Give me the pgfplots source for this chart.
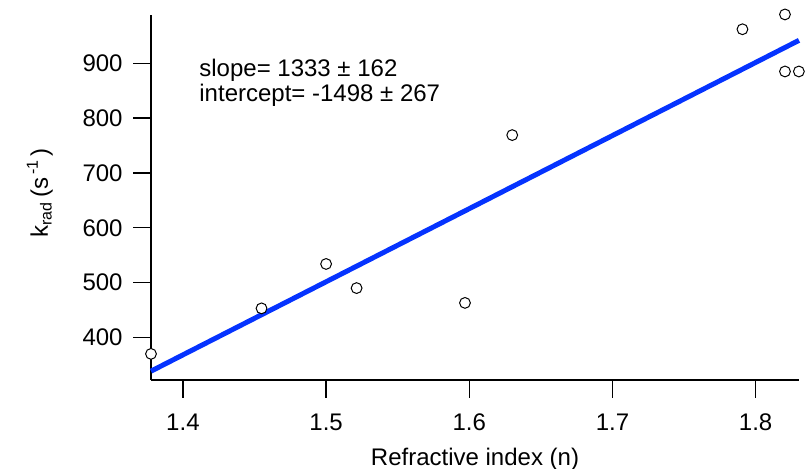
\documentclass[border=0pt]{standalone}
\usepackage{pgfplots}
\pgfplotsset{compat=1.18}
\usepackage{fontspec}
\setmainfont{Liberation Sans}
\definecolor{fitblue}{rgb}{0.02,0.2,1}
\begin{document}
\fontsize{12pt}{14.4pt}\selectfont
\begin{tikzpicture}
\path[use as bounding box] (0,0) rectangle (403pt,234.5pt);
\begin{axis}[
  name=ax,
  at={(75.5pt,44.5pt)}, anchor=south west,
  scale only axis, width=324pt, height=182.5pt,
  xmin=1.3777, xmax=1.8303, ymin=322.4, ymax=988,
  axis x line=bottom, axis y line=left,
  axis line style={-, line width=0.7pt},
  tick style={line width=0.7pt, black},
  tick align=outside, major tick length=9pt,
  xtick={1.4,1.5,1.6,1.7,1.8},
  ytick={400,500,600,700,800,900},
  minor tick num=0,
  /pgf/number format/assume math mode=true,
  x tick label style={/pgf/number format/fixed, /pgf/number format/precision=1, /pgf/number format/fixed zerofill, font=\fontsize{12pt}{14.4pt}\selectfont, anchor=base, inner sep=0pt, yshift=-16.5pt},
  y tick label style={font=\fontsize{12pt}{14.4pt}\selectfont, anchor=east, inner sep=0pt, xshift=-5pt},
  xlabel={Refractive index (n)},
  xlabel style={at={(axis description cs:0.5,-0.2329)}, anchor=base, inner sep=0pt, font=\fontsize{12pt}{14.4pt}\selectfont},
  ylabel={k\textsubscript{rad}\,(s\raisebox{5pt}{\fontsize{8pt}{9pt}\selectfont\,-1}\,)},
  ylabel style={at={(axis description cs:-0.1590,0.5123)}, anchor=base, rotate=0, inner sep=0pt, font=\fontsize{12pt}{14.4pt}\selectfont},
  clip=false,
]
\addplot[fitblue, line width=2.5pt] coordinates {(1.3777,338.5) (1.8303,941.8)};
\addplot[only marks, mark=*, mark size=2.7pt, mark options={fill=white, draw=black, line width=0.5pt}] coordinates {
(1.3777,370)
(1.4549,453)
(1.5000,534)
(1.5213,490)
(1.5970,463)
(1.6300,769)
(1.7908,962)
(1.8205,989)
(1.8205,885)
(1.8302,885)
};
\node[anchor=base west, inner sep=0pt] at (axis description cs:0.0741,0.831) {slope= 1333 ± 162};
\node[anchor=base west, inner sep=0pt] at (axis description cs:0.0741,0.7625) {intercept= -1498 ± 267};
\end{axis}
\end{tikzpicture}
\end{document}
